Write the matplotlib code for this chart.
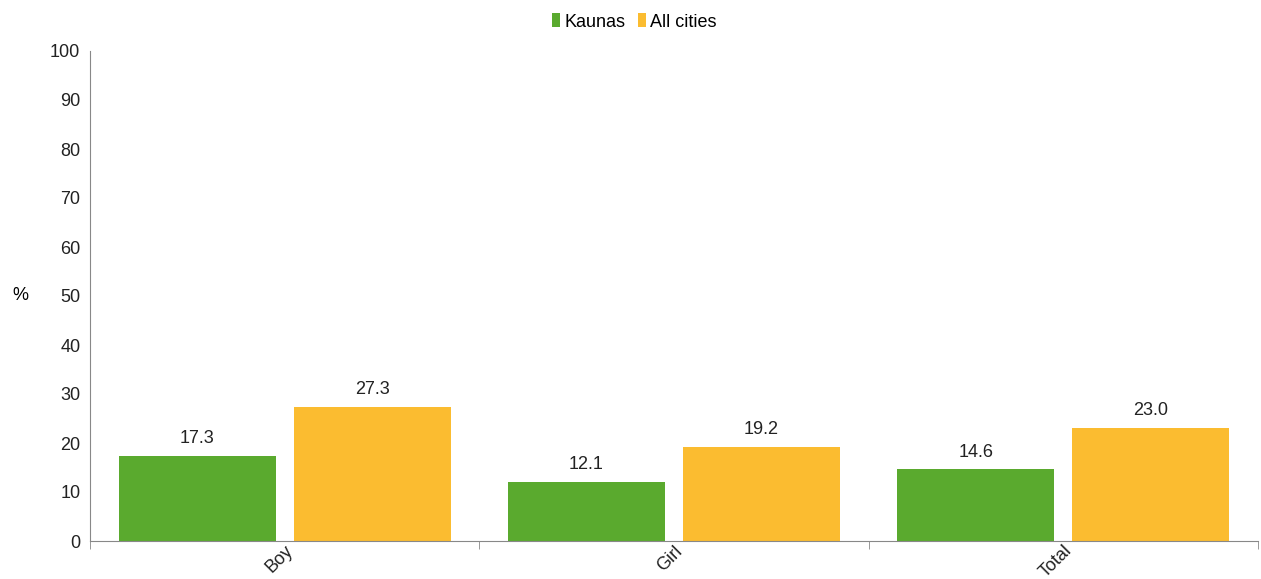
import numpy as np
import matplotlib.pyplot as plt

plt.rcParams["font.family"] = ["Liberation Sans", "DejaVu Sans"]

categories = ["Boy", "Girl", "Total"]
kaunas = [17.3, 12.1, 14.6]
all_cities = [27.3, 19.2, 23.0]

green = "#5aaa2e"
yellow = "#fbbc30"

fig = plt.figure(figsize=(12.61, 5.79), dpi=100)
ax = fig.add_axes([90 / 1261, 38 / 579, 1168 / 1261, 490 / 579])

x = np.arange(len(categories))
w = 0.403
b1 = ax.bar(x - 0.225, kaunas, w, color=green, label="Kaunas")
b2 = ax.bar(x + 0.225, all_cities, w, color=yellow, label="All cities")

for bars, vals in ((b1, kaunas), (b2, all_cities)):
    for rect, v in zip(bars, vals):
        ax.text(rect.get_x() + rect.get_width() / 2, v + 1.8, f"{v:.1f}",
                ha="center", va="bottom", fontsize=13, color="#222222")

ax.set_xlim(-0.5, len(categories) - 0.5)
ax.set_ylim(0, 100)
ax.set_yticks(range(0, 101, 10))
ax.tick_params(axis="y", length=0, labelsize=13, pad=7, colors="#222222")

ax.set_xticks(x)
ax.set_xticklabels(categories, rotation=45, ha="right", rotation_mode="anchor",
                   fontsize=13, color="#222222")
ax.tick_params(axis="x", length=0, pad=1)
# boundary tick marks between categories
ax.set_xticks(np.arange(-0.5, len(categories)), minor=True)
ax.tick_params(axis="x", which="minor", length=6, color="#888888")

for s in ("top", "right"):
    ax.spines[s].set_visible(False)
ax.spines["left"].set_color("#888888")
ax.spines["bottom"].set_color("#888888")

ax.set_ylabel("%", rotation=0, fontsize=13, va="center", ha="center")
ax.yaxis.set_label_coords(-70 / 1168, 0.5)

ax.legend(loc="upper center", bbox_to_anchor=(0.466, 1.11), ncol=2, frameon=False,
          fontsize=13, handlelength=0.45, handleheight=0.8, handletextpad=0.25,
          columnspacing=0.7)

plt.savefig("out.png", dpi=100)
